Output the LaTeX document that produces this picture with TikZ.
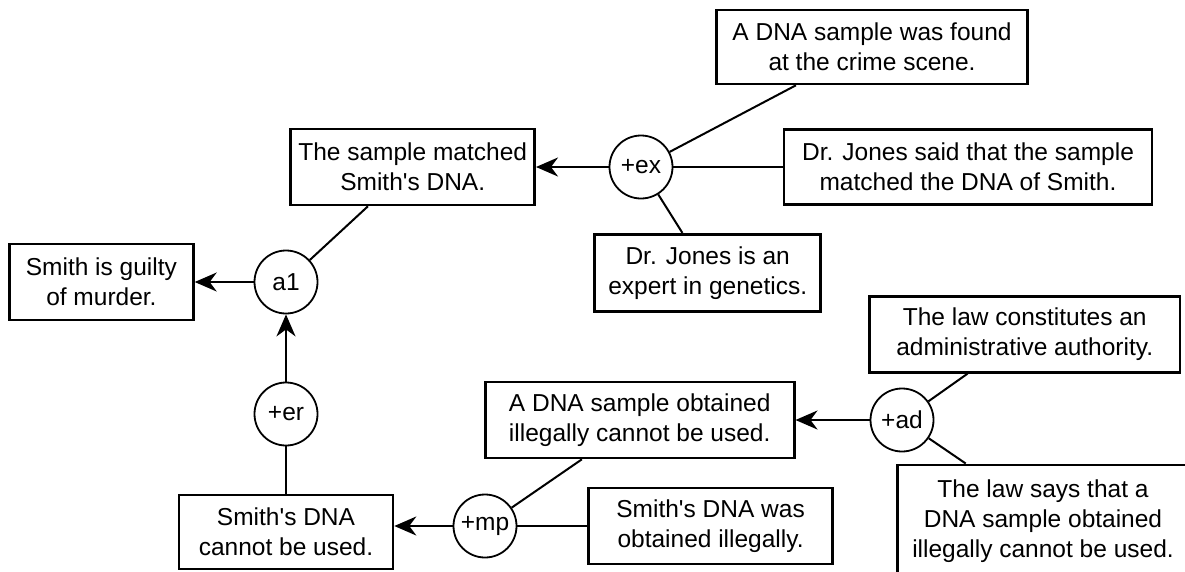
\documentclass[tikz,border=0pt]{standalone}
\usepackage{fontspec}
\setmainfont{Liberation Sans}
\usetikzlibrary{arrows.meta,calc}
\newcommand{\apos}{\textquotesingle}
\begin{document}
\begin{tikzpicture}[x=1pt,y=-1pt,
  txt/.style={font=\fontsize{24.5}{30}\selectfont},
  box/.style={txt, draw, line width=2.6pt, rectangle, align=center, inner sep=0pt},
  circ/.style={txt, draw, line width=1.8pt, circle, minimum size=63pt, inner sep=0pt},
  arr/.style={line width=2.2pt, -{Stealth[length=22pt,width=19pt,inset=7pt]}},
  lnk/.style={line width=2pt},
  thk/.style={line width=2.2pt}]
\useasboundingbox (0,0) rectangle (1185,571);
% boxes
\node[box, minimum width=311pt, minimum height=74pt] (found) at (872,47) {A DNA sample was found\\at the crime scene.};
\node[box, minimum width=244pt, minimum height=76pt] (sm) at (412.7,167) {The sample matched\\Smith\apos{}s DNA.};
\node[box, minimum width=368pt, minimum height=75pt] (said) at (968,167) {Dr. Jones said that the sample\\matched the DNA of Smith.};
\node[box, minimum width=226pt, minimum height=77pt] (expert) at (707.7,272.7) {Dr. Jones is an\\expert in genetics.};
\node[box, minimum width=184pt, minimum height=76pt] (guilty) at (101.4,282) {Smith is guilty\\of murder.};
\node[box, minimum width=310.6pt, minimum height=75.6pt] (const) at (1024.7,334.5) {The law constitutes an\\administrative authority.};
\node[box, minimum width=309pt, minimum height=76pt] (illegal) at (639.7,420) {A DNA sample obtained\\illegally cannot be used.};
\node[box, minimum width=291pt, minimum height=112pt] (says) at (1043,520.8) {The law says that a\\DNA sample obtained\\illegally cannot be used.};
\node[box, minimum width=244pt, minimum height=76pt] (was) at (710.6,526) {Smith\apos{}s DNA was\\obtained illegally.};
\node[box, minimum width=214pt, minimum height=74pt] (cannot) at (286,532) {Smith\apos{}s DNA\\cannot be used.};
% circles
\node[circ] (ex) at (641,167) {+ex};
\node[circ] (a1) at (286,282) {a1};
\node[circ] (ad) at (902,420) {+ad};
\node[circ] (er) at (286,414) {+er};
\node[circ] (mp) at (485,526) {+mp};
% connectors
\draw[arr] (ex) -- (sm);
\draw[thk] (ex) -- (said);
\draw[lnk] (ex) -- ([xshift=80.7pt]found.south west);
\draw[lnk] (ex) -- ([xshift=89pt]expert.north west);
\draw[arr, line width=1.6pt] (a1) -- (guilty);
\draw[lnk] (a1) -- ([xshift=78.5pt]sm.south west);
\draw[arr] (er) -- (a1);
\draw[thk] (cannot) -- (er);
\draw[arr] (mp) -- (mp -| cannot.east);
\draw[thk] (mp) -- (was);
\draw[lnk] (mp) -- ([xshift=98pt]illegal.south west);
\draw[arr] (ad) -- (illegal);
\draw[lnk] (ad) -- ([xshift=99.5pt]const.south west);
\draw[lnk] (ad) -- ([xshift=69.5pt]says.north west);
\end{tikzpicture}
\end{document}
